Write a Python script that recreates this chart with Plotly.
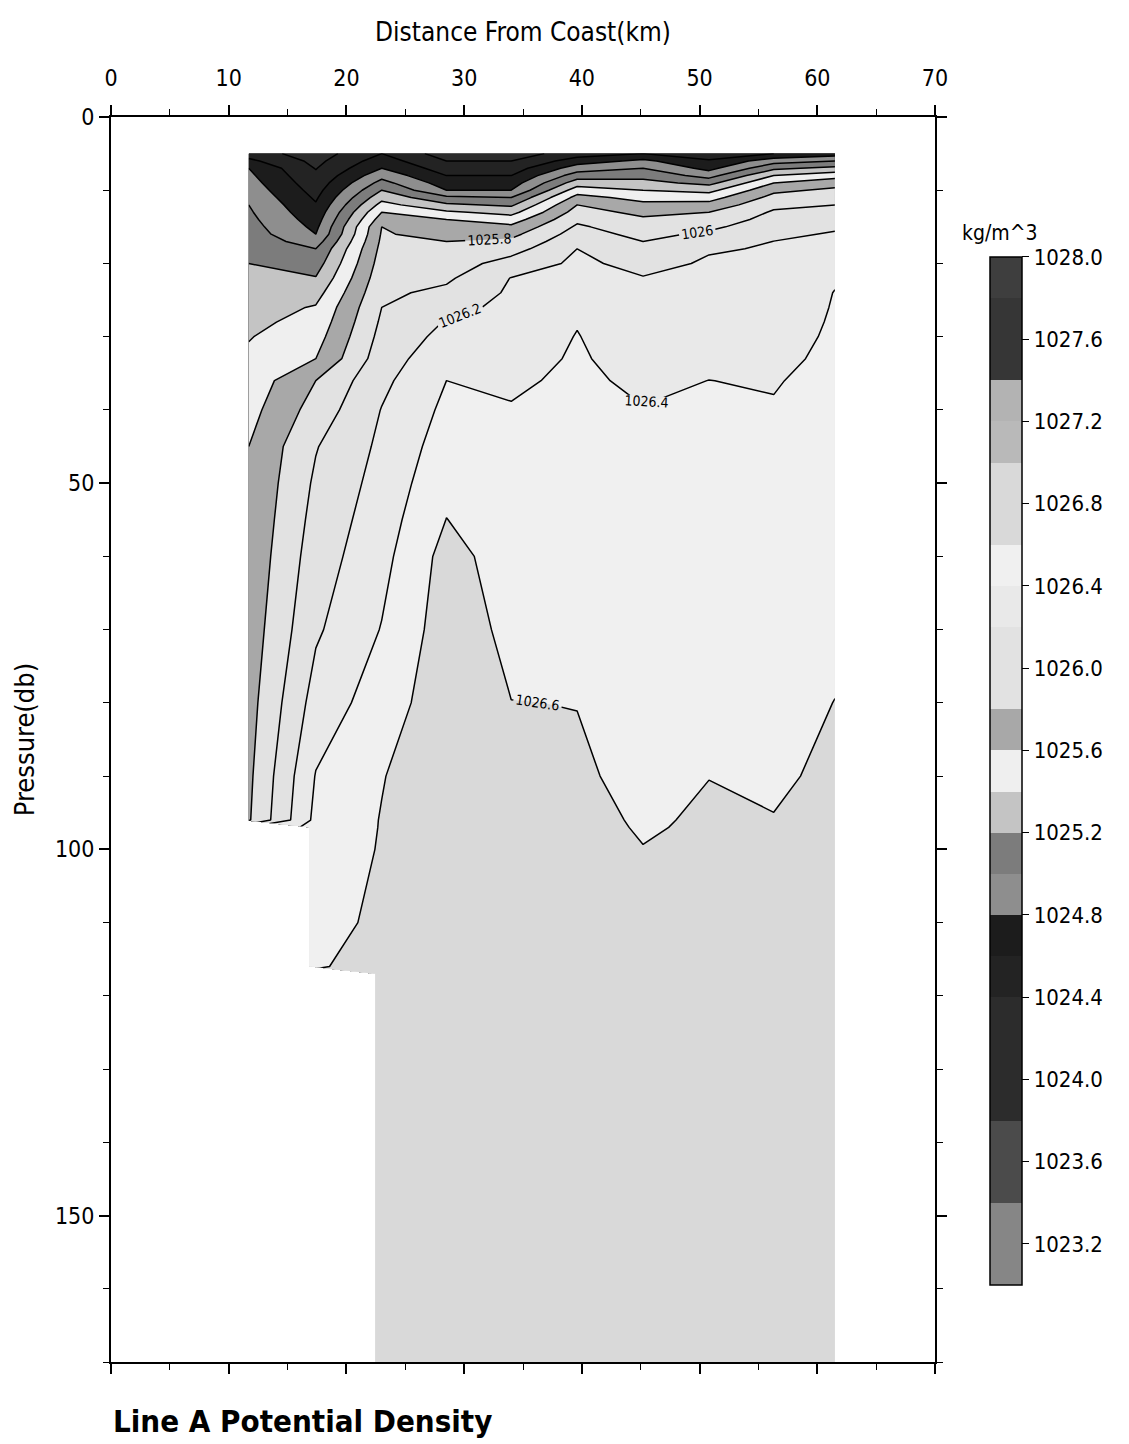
import numpy as np
import plotly.graph_objects as go

# Station positions along Line A (km from the coast)
distance_km = [11.7, 17.4, 23.0, 28.5, 34.0, 39.6, 45.2, 50.8, 56.3, 61.5]

# Pressure levels of the gridded section (db)
pressure_db = [5, 6, 7, 8, 9, 10, 11, 12, 13, 14, 15, 16, 17, 18,
               20, 22, 24, 26, 28, 30,
               33, 36, 40, 45, 50, 55, 60,
               70, 80, 90, 96, 97,
               100, 110, 116, 117, 140, 170]

NA = np.nan

# Potential density (kg/m^3) per station, one value per pressure level; NA below the cast
st01 = [1024.50, 1024.65, 1024.80, 1024.84, 1024.88, 1024.92, 1024.96, 1025.00, 1025.025, 1025.05,
        1025.075, 1025.10, 1025.125, 1025.15,
        1025.20, 1025.238, 1025.276, 1025.314, 1025.352, 1025.390,
        1025.434, 1025.476, 1025.531, 1025.600, 1025.618, 1025.635, 1025.653,
        1025.688, 1025.724, 1025.759, 1025.780, NA,
        NA, NA, NA, NA, NA, NA]
st02 = [1024.30, 1024.345, 1024.391, 1024.436, 1024.482, 1024.527, 1024.573, 1024.618, 1024.664, 1024.709,
        1024.755, 1024.800, 1024.900, 1025.000,
        1025.105, 1025.211, 1025.322, 1025.416, 1025.468, 1025.521,
        1025.600, 1025.800, 1025.884, 1025.989, 1026.032, 1026.067, 1026.102,
        1026.172, 1026.283, 1026.410, 1026.452, 1026.459,
        1026.479, 1026.549, 1026.590, NA, NA, NA]
st03 = [1024.60, 1024.70, 1024.80, 1024.933, 1025.067, 1025.200, 1025.333, 1025.467, 1025.600, 1025.700,
        1025.800, 1025.818, 1025.836, 1025.855,
        1025.891, 1025.927, 1025.964, 1026.000, 1026.031, 1026.062,
        1026.108, 1026.154, 1026.207, 1026.240, 1026.273, 1026.307, 1026.340,
        1026.409, 1026.500, 1026.591, 1026.608, 1026.609,
        1026.614, 1026.629, 1026.638, 1026.640, 1026.675, 1026.720]
st04 = [1024.30, 1024.40, 1024.50, 1024.60, 1024.70, 1024.80, 1025.040, 1025.240, 1025.433, 1025.600,
        1025.667, 1025.733, 1025.800, 1025.833,
        1025.900, 1025.967, 1026.044, 1026.133, 1026.212, 1026.259,
        1026.329, 1026.400, 1026.442, 1026.495, 1026.547, 1026.603, 1026.670,
        1026.700, 1026.720, 1026.730, 1026.735, 1026.736,
        1026.740, 1026.745, 1026.750, 1026.750, 1026.760, 1026.770]
st05 = [1024.30, 1024.40, 1024.50, 1024.60, 1024.70, 1024.80, 1025.00, 1025.167, 1025.333, 1025.500,
        1025.642, 1025.747, 1025.840, 1025.920,
        1026.080, 1026.206, 1026.230, 1026.255, 1026.279, 1026.303,
        1026.339, 1026.376, 1026.410, 1026.434, 1026.459, 1026.483, 1026.507,
        1026.556, 1026.602, 1026.617, 1026.626, 1026.628,
        1026.632, 1026.648, 1026.657, 1026.658, 1026.694, 1026.740]
st06 = [1024.50, 1024.70, 1024.90, 1025.10, 1025.30, 1025.50, 1025.667, 1025.800, 1025.880, 1025.960,
        1026.029, 1026.086, 1026.143, 1026.200,
        1026.238, 1026.277, 1026.315, 1026.354, 1026.392, 1026.406,
        1026.418, 1026.429, 1026.445, 1026.464, 1026.484, 1026.503, 1026.522,
        1026.561, 1026.598, 1026.616, 1026.625, 1026.626,
        1026.631, 1026.647, 1026.656, 1026.658, 1026.693, 1026.740]
st07 = [1024.60, 1024.846, 1025.000, 1025.133, 1025.267, 1025.400, 1025.533, 1025.650, 1025.750, 1025.829,
        1025.886, 1025.943, 1026.000, 1026.048,
        1026.143, 1026.209, 1026.232, 1026.255, 1026.279, 1026.302,
        1026.336, 1026.371, 1026.405, 1026.421, 1026.438, 1026.455, 1026.471,
        1026.504, 1026.537, 1026.570, 1026.590, 1026.593,
        1026.602, 1026.619, 1026.629, 1026.630, 1026.669, 1026.720]
st08 = [1024.50, 1024.62, 1024.74, 1024.925, 1025.140, 1025.340, 1025.517, 1025.667, 1025.800, 1025.880,
        1025.960, 1026.037, 1026.111, 1026.185,
        1026.221, 1026.243, 1026.266, 1026.289, 1026.311, 1026.334,
        1026.369, 1026.401, 1026.416, 1026.434, 1026.453, 1026.471, 1026.489,
        1026.526, 1026.563, 1026.599, 1026.610, 1026.611,
        1026.616, 1026.633, 1026.642, 1026.644, 1026.681, 1026.730]
st09 = [1024.60, 1024.914, 1025.156, 1025.400, 1025.600, 1025.754, 1025.864, 1025.955, 1026.023, 1026.070,
        1026.116, 1026.163, 1026.202, 1026.212,
        1026.232, 1026.251, 1026.271, 1026.291, 1026.311, 1026.331,
        1026.360, 1026.390, 1026.411, 1026.428, 1026.446, 1026.463, 1026.481,
        1026.516, 1026.551, 1026.586, 1026.603, 1026.605,
        1026.609, 1026.625, 1026.635, 1026.636, 1026.673, 1026.720]
st10 = [1024.70, 1025.000, 1025.257, 1025.525, 1025.717, 1025.840, 1025.920, 1026.000, 1026.059, 1026.118,
        1026.176, 1026.216, 1026.244, 1026.271,
        1026.326, 1026.381, 1026.405, 1026.412, 1026.419, 1026.426,
        1026.437, 1026.447, 1026.461, 1026.479, 1026.497, 1026.515, 1026.533,
        1026.568, 1026.602, 1026.618, 1026.628, 1026.630,
        1026.635, 1026.651, 1026.661, 1026.663, 1026.701, 1026.750]

# Contour levels (kg/m^3)
level_start, level_end, level_step = 1023.2, 1027.8, 0.2
labelled_from = 1025.8
scale_min, scale_max = 1023.0, 1028.0

# Grey shade of each 0.2 band, from 1023.0-1023.2 up to 1027.8-1028.0
band_greys = ["#868686", "#868686", "#4b4b4b", "#4b4b4b", "#2c2c2c",
              "#2c2c2c", "#2c2c2c", "#232323", "#1c1c1c", "#8e8e8e",
              "#7c7c7c", "#c4c4c4", "#efefef", "#a8a8a8", "#e2e2e2",
              "#e2e2e2", "#e9e9e9", "#f0f0f0", "#d9d9d9", "#d9d9d9",
              "#b9b9b9", "#b3b3b3", "#363636", "#363636", "#3e3e3e"]

colorbar_ticks = [1023.2, 1023.6, 1024.0, 1024.4, 1024.8, 1025.2, 1025.6,
                  1026.0, 1026.4, 1026.8, 1027.2, 1027.6, 1028.0]

density = np.array([st01, st02, st03, st04, st05, st06, st07, st08, st09, st10], dtype=float).T

FONT = "DejaVu Sans Condensed, Liberation Sans Narrow, sans-serif"
n_bands = len(band_greys)

# Contour fill palette: one stop per band centre
fill_scale = [[k / (n_bands - 1), c] for k, c in enumerate(band_greys)]
# Colour-bar palette: hard steps at every band edge between scale_min and scale_max
step_scale = []
for k, c in enumerate(band_greys):
    step_scale.append([k / n_bands, c])
    step_scale.append([(k + 1) / n_bands, c])

fig = go.Figure()

# Filled density bands
fig.add_trace(go.Contour(
    x=distance_km, y=pressure_db, z=density,
    connectgaps=False,
    autocontour=False,
    colorscale=fill_scale,
    showscale=False,
    contours=dict(start=level_start, end=level_end, size=level_step,
                  coloring="fill", showlines=False),
    line=dict(width=0, smoothing=0),
    hoverinfo="skip",
))

# Unlabelled isopycnals in the light surface layer
fig.add_trace(go.Contour(
    x=distance_km, y=pressure_db, z=density,
    connectgaps=False, autocontour=False, showscale=False,
    contours=dict(start=level_start, end=labelled_from - level_step, size=level_step,
                  coloring="none", showlines=True),
    line=dict(color="black", width=1.5, smoothing=0),
    hoverinfo="skip",
))

# Labelled isopycnals below
fig.add_trace(go.Contour(
    x=distance_km, y=pressure_db, z=density,
    connectgaps=False, autocontour=False, showscale=False,
    contours=dict(start=labelled_from, end=level_end, size=level_step,
                  coloring="none", showlines=True, showlabels=True,
                  labelformat=".6~g",
                  labelfont=dict(size=14, family=FONT, color="black")),
    line=dict(color="black", width=1.5, smoothing=0),
    hoverinfo="skip",
))

# Colour bar for the density scale
fig.add_trace(go.Scatter(
    x=[None], y=[None], mode="markers", showlegend=False, hoverinfo="skip",
    marker=dict(
        color=[scale_min], cmin=scale_min, cmax=scale_max, colorscale=step_scale,
        showscale=True,
        colorbar=dict(
            thickness=32, thicknessmode="pixels",
            len=0.8257, lenmode="fraction",
            x=1.0667, xanchor="left", xpad=0,
            y=0.4747, yanchor="middle", ypad=0,
            outlinecolor="black", outlinewidth=1.5,
            tickmode="array", tickvals=colorbar_ticks,
            ticktext=[f"{v:.1f}" for v in colorbar_ticks],
            ticks="outside", ticklen=7, tickwidth=1.2, tickcolor="black",
            tickfont=dict(size=22, family=FONT, color="black"),
        ),
    ),
))

axis_common = dict(
    ticks="outside", tickcolor="black", tickwidth=1.5, ticklen=10,
    showline=True, linecolor="black", linewidth=2, mirror="ticks",
    showgrid=False, zeroline=False, automargin=False,
    tickfont=dict(size=23, family=FONT, color="black"),
)

fig.update_layout(
    width=1129, height=1444,
    margin=dict(l=111, r=194, t=117, b=82),
    paper_bgcolor="white", plot_bgcolor="white",
    font=dict(family=FONT, color="black"),
    showlegend=False,
    xaxis=dict(
        range=[0, 70], side="top", tickmode="linear", tick0=0, dtick=10,
        ticklabelstandoff=10,
        minor=dict(ticks="outside", dtick=5, ticklen=6, tickwidth=1.2, tickcolor="black"),
        title=dict(text="Distance From Coast(km)", font=dict(size=26, family=FONT), standoff=16),
        **axis_common,
    ),
    yaxis=dict(
        range=[170, 0], tickmode="array", tickvals=[0, 50, 100, 150],
        minor=dict(ticks="outside", dtick=10, tick0=0, ticklen=6, tickwidth=1.2, tickcolor="black"),
        title=dict(text="Pressure(db)", font=dict(size=27, family=FONT), standoff=12),
        **axis_common,
    ),
    annotations=[
        dict(text="Line A Potential Density", x=0, y=-0.047, xref="paper", yref="paper",
             xanchor="left", yanchor="middle", showarrow=False,
             font=dict(size=31, family=FONT, color="black", weight="bold")),
        dict(text="kg/m^3", x=1.0303, y=0.9068, xref="paper", yref="paper",
             xanchor="left", yanchor="middle", showarrow=False,
             font=dict(size=21, family=FONT, color="black")),
    ],
)

fig.write_html("out.html")
